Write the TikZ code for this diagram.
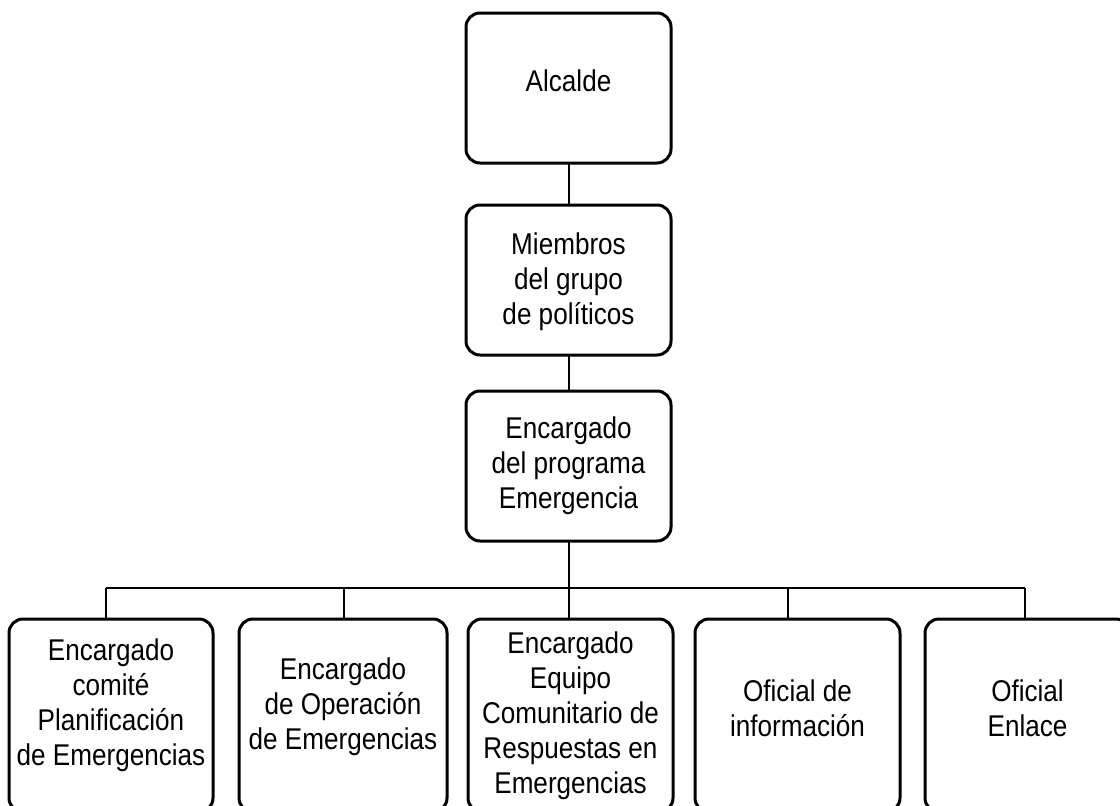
\documentclass[tikz,border=0pt]{standalone}
\usepackage{fontspec}
\setmainfont{Liberation Sans}[FakeStretch=0.87]
\begin{document}
\begin{tikzpicture}[x=1pt,y=-1pt,
  box/.style={draw=black,line width=3pt,rounded corners=14pt,inner sep=0pt,
    outer sep=0pt,minimum width=#1,anchor=north west},
  lbl/.style={align=center,inner sep=0pt,font=\fontsize{30}{35}\selectfont},
  conn/.style={draw=black,line width=2pt}]
\useasboundingbox (0,0) rectangle (1120,806);
\clip (0,0) rectangle (1120,806);
% top column
\node[box=205pt,minimum height=150pt] (a) at (466,13) {};
\node[box=205pt,minimum height=150pt] (m) at (466,205) {};
\node[box=205pt,minimum height=150pt] (e) at (466,391) {};
% bottom row
\node[box=204pt,minimum height=193pt] (b1) at (9,619) {};
\node[box=208pt,minimum height=193pt] (b2) at (239,619) {};
\node[box=205pt,minimum height=193pt] (b3) at (468,619) {};
\node[box=205pt,minimum height=193pt] (b4) at (695,619) {};
\node[box=205pt,minimum height=193pt] (b5) at (925,619) {};
% labels
\node[lbl] (ta) at (568.5,81) {Alcalde};
\node[lbl] (tm) at (568.5,282) {Miembros\\del grupo\\de políticos};
\node[lbl] (te) at (568.5,466) {Encargado\\del programa\\Emergencia};
\node[lbl] (t1) at (111,705) {Encargado\\comité\\Planificación\\de Emergencias};
\node[lbl] (t2) at (343,707) {Encargado\\de Operación\\de Emergencias};
\node[lbl] (t3) at (570.5,716) {Encargado\\Equipo\\Comunitario de\\Respuestas en\\Emergencias};
\node[lbl] (t4) at (797.5,708) {Oficial de\\información};
\node[lbl] (t5) at (1027.5,708) {Oficial\\Enlace};
% connectors
\coordinate (bus) at (568.5,588);
\coordinate (d1) at (106,588);
\coordinate (d2) at (344,588);
\coordinate (d3) at (568.5,588);
\coordinate (d4) at (788,588);
\coordinate (d5) at (1025,588);
\draw[conn] (a.south) -- (m.north);
\draw[conn] (m.south) -- (e.north);
\draw[conn] (e.south) -- (bus);
\draw[conn] (d1) -- (d5);
\draw[conn] (d1) -- (d1 |- b1.north);
\draw[conn] (d2) -- (d2 |- b2.north);
\draw[conn] (d3) -- (d3 |- b3.north);
\draw[conn] (d4) -- (d4 |- b4.north);
\draw[conn] (d5) -- (d5 |- b5.north);
\end{tikzpicture}
\end{document}
